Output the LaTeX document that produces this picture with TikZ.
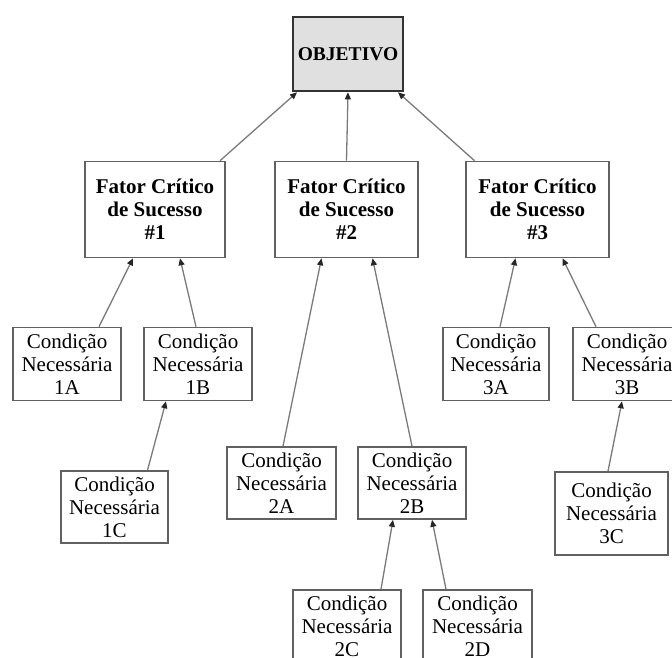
\documentclass[tikz,border=0pt]{standalone}
\usepackage{fontspec}
\setmainfont{Liberation Serif}
\usetikzlibrary{arrows.meta}
\begin{document}
\begin{tikzpicture}[x=1pt,y=-1pt,
  box/.style={draw=black!62,line width=1.6pt,fill=white,rectangle,align=center,
    inner sep=0pt,font=\fontsize{21}{23}\selectfont},
  goal/.style={draw=black!80,line width=2.6pt,fill=black!12,rectangle,align=center,
    inner sep=0pt,font=\fontsize{19.5}{22}\selectfont\bfseries},
  fcs/.style={box,font=\fontsize{21}{23}\selectfont\bfseries},
  link/.style={draw=black!52,line width=1.3pt,
    -{Triangle[length=7pt,width=6pt,color=black!85]}}]
\useasboundingbox (0,0) rectangle (672,657);
\clip (0,0) rectangle (672,657);

% goal
\node[goal,minimum width=110pt,minimum height=74pt] (obj) at (348,54) {OBJETIVO};

% critical success factors
\node[fcs,minimum width=140pt,minimum height=96pt] (f1) at (155,209.5)
  {Fator Crítico\\de Sucesso\\\#1};
\node[fcs,minimum width=143pt,minimum height=96pt] (f2) at (346.5,209.5)
  {Fator Crítico\\de Sucesso\\\#2};
\node[fcs,minimum width=143pt,minimum height=96pt] (f3) at (537.5,209.5)
  {Fator Crítico\\de Sucesso\\\#3};

% necessary conditions
\newcommand{\nc}[1]{Condição\\Necessária\\#1}
\node[box,minimum width=108pt,minimum height=73pt] (c1A) at (67,364) {\nc{1A}};
\node[box,minimum width=108pt,minimum height=73pt] (c1B) at (198,364) {\nc{1B}};
\node[box,minimum width=107pt,minimum height=72pt] (c1C) at (114.5,507) {\nc{1C}};
\node[box,minimum width=109pt,minimum height=72pt] (c2A) at (281.5,483) {\nc{2A}};
\node[box,minimum width=108pt,minimum height=72pt] (c2B) at (412,483) {\nc{2B}};
\node[box,minimum width=108pt,minimum height=73pt] (c2C) at (347,626.5) {\nc{2C}};
\node[box,minimum width=109pt,minimum height=73pt] (c2D) at (477.5,626.5) {\nc{2D}};
\node[box,minimum width=106pt,minimum height=73pt] (c3A) at (496,364) {\nc{3A}};
\node[box,minimum width=108pt,minimum height=73pt] (c3B) at (627,364) {\nc{3B}};
\node[box,minimum width=113pt,minimum height=83pt] (c3C) at (611.5,513.5) {\nc{3C}};

% connectors
\draw[link] ([xshift=65pt]f1.north) -- ([xshift=-51pt]obj.south);
\draw[link] (f2.north) -- (obj.south);
\draw[link] ([xshift=-63pt]f3.north) -- ([xshift=50pt]obj.south);

\draw[link] ([xshift=32pt]c1A.north) -- ([xshift=-22pt]f1.south);
\draw[link] ([xshift=-2pt]c1B.north) -- ([xshift=25pt]f1.south);
\draw[link] ([xshift=33pt]c1C.north) -- ([xshift=-32pt]c1B.south);

\draw[link] ([xshift=1.5pt]c2A.north) -- ([xshift=-25pt]f2.south);
\draw[link] (c2B.north) -- ([xshift=26pt]f2.south);
\draw[link] ([xshift=34pt]c2C.north) -- ([xshift=-19pt]c2B.south);
\draw[link] ([xshift=-31.5pt]c2D.north) -- ([xshift=20pt]c2B.south);

\draw[link] ([xshift=4pt]c3A.north) -- ([xshift=-22pt]f3.south);
\draw[link] ([xshift=-31pt]c3B.north) -- ([xshift=25pt]f3.south);
\draw[link] ([xshift=-3.5pt]c3C.north) -- ([xshift=-5pt]c3B.south);
\end{tikzpicture}
\end{document}
